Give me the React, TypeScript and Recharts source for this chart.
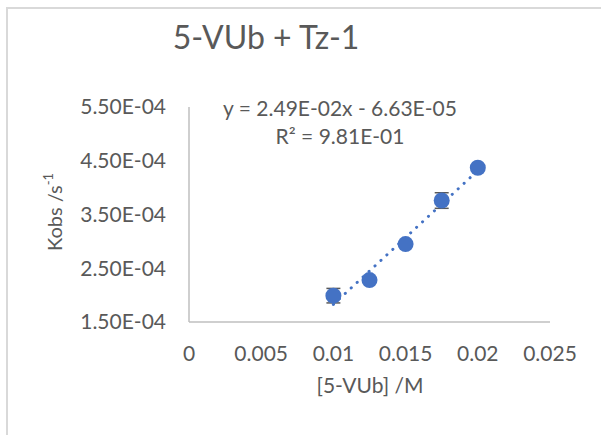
import { ScatterChart, Scatter, XAxis, YAxis, ErrorBar } from 'recharts'

// [5-VUb] in M, Kobs in s^-1
const conc = [0.01, 0.0125, 0.015, 0.0175, 0.02]
const kobs = [1.99e-4, 2.28e-4, 2.95e-4, 3.76e-4, 4.37e-4]
const kobsErr = [0.135e-4, 0, 0, 0.145e-4, 0]

// linear trendline ends
const trendX = [0.01, 0.02]
const trendY = [1.827e-4, 4.317e-4]

const xTicks = [0, 0.005, 0.01, 0.015, 0.02, 0.025]
const yTicks = [1.5e-4, 2.5e-4, 3.5e-4, 4.5e-4, 5.5e-4]

const LABELS = {
	TITLE: '5-VUb + Tz-1',
	X: '[5-VUb] /M',
	Y: 'Kobs /s',
	EQ: 'y = 2.49E-02x - 6.63E-05',
	R2: 'R² = 9.81E-01',
}

const BLUE = '#4472C4'
const TEXT = '#595959'
const AXIS = '#bfbfbf'
const FONT = 'Lato, sans-serif'

// excel style 1.50E-04
const sci = (v: number) => {
	const [m, e] = v.toExponential(2).split('e')
	const n = Number(e)
	return `${m}E${n < 0 ? '-' : '+'}${String(Math.abs(n)).padStart(2, '0')}`
}

const points = conc.map((x, i) => ({ x, y: kobs[i], err: kobsErr[i] }))
const trend = trendX.map((x, i) => ({ x, y: trendY[i] }))

const Dot = (props: any) => <circle cx={props.cx} cy={props.cy} r={8} fill={BLUE} />

export default function App() {
	return (
		<div
			style={{
				position: 'absolute',
				left: 0,
				top: 0,
				width: 601,
				height: 435,
				overflow: 'hidden',
				background: '#fff',
				fontFamily: FONT,
			}}
		>
			<div
				style={{
					position: 'absolute',
					left: 6,
					top: 7,
					width: 700,
					height: 500,
					border: '2px solid #d9d9d9',
				}}
			/>
			<ScatterChart width={601} height={435} margin={{ top: 107, right: 51, bottom: 83, left: 0 }}>
				<XAxis
					type="number"
					dataKey="x"
					domain={[0, 0.025]}
					ticks={xTicks}
					tickFormatter={(v) => String(v)}
					axisLine={{ stroke: AXIS, strokeWidth: 1.5 }}
					tickLine={false}
					tickSize={0}
					tickMargin={24}
					height={30}
					tick={{ fill: TEXT, fontSize: 21, fontFamily: FONT }}
				/>
				<YAxis
					type="number"
					dataKey="y"
					domain={[1.5e-4, 5.5e-4]}
					ticks={yTicks}
					tickFormatter={sci}
					axisLine={{ stroke: AXIS, strokeWidth: 1.5 }}
					tickLine={false}
					tickSize={0}
					tickMargin={23}
					width={189}
					tick={{ fill: TEXT, fontSize: 21, fontFamily: FONT }}
				/>
				<Scatter
					data={trend}
					line={{ stroke: BLUE, strokeWidth: 3, strokeDasharray: '0.1 8', strokeLinecap: 'round' }}
					shape={() => <g />}
					isAnimationActive={false}
				/>
				<Scatter data={points} shape={Dot} fill={BLUE} isAnimationActive={false}>
					<ErrorBar dataKey="err" direction="y" width={7} stroke={TEXT} strokeWidth={1.5} />
				</Scatter>
			</ScatterChart>
			<svg
				width={601}
				height={435}
				style={{ position: 'absolute', left: 0, top: 0, pointerEvents: 'none' }}
				fontFamily={FONT}
				fill={TEXT}
			>
				<text x={266} y={49} fontSize={32} textAnchor="middle">
					{LABELS.TITLE}
				</text>
				<text x={340} y={116} fontSize={21} textAnchor="middle">
					{LABELS.EQ}
				</text>
				<text x={340} y={144} fontSize={21} textAnchor="middle">
					{LABELS.R2}
				</text>
				<text x={370} y={393} fontSize={21} textAnchor="middle">
					{LABELS.X}
				</text>
				<text x={62} y={212} fontSize={20} textAnchor="middle" transform="rotate(-90 62 212)">
					{LABELS.Y}
					<tspan fontSize={13} dy={-9}>
						-1
					</tspan>
				</text>
			</svg>
		</div>
	)
}
